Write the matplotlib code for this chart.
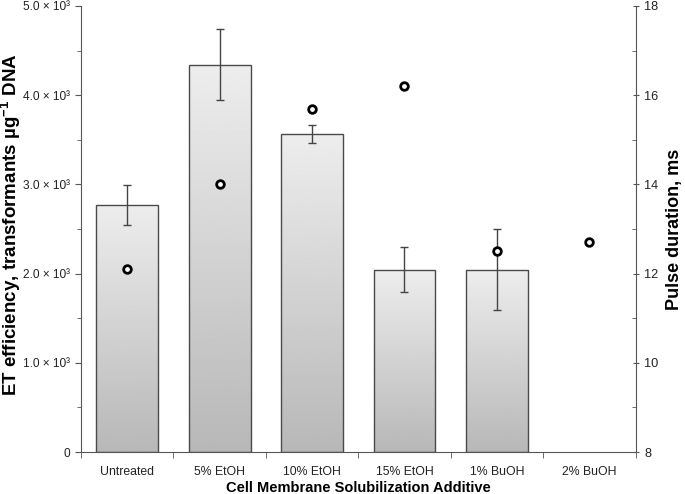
import numpy as np
import matplotlib
matplotlib.use('Agg')
import matplotlib.pyplot as plt
from matplotlib.ticker import FixedLocator, MultipleLocator

plt.rcParams['font.family'] = ['Liberation Sans', 'DejaVu Sans']
plt.rcParams['mathtext.default'] = 'regular'

# data
categories = ['Untreated', '5% EtOH', '10% EtOH', '15% EtOH', '1% BuOH', '2% BuOH']
efficiency = [2770, 4340, 3565, 2045, 2045, np.nan]
efficiency_err = [225, 400, 105, 255, 455, np.nan]
pulse_ms = [12.1, 14.0, 15.7, 16.2, 12.5, 12.7]

left_ticks = [0, 1000, 2000, 3000, 4000, 5000]
left_labels = ['0', '1.0 × 10³', '2.0 × 10³', '3.0 × 10³', '4.0 × 10³', '5.0 × 10³']
right_ticks = [8, 10, 12, 14, 16, 18]

axis_col = '#555555'

fig = plt.figure(figsize=(6.85, 4.94), dpi=100)
ax = fig.add_axes([0.118, 0.085, 0.810, 0.903])

x = np.arange(len(categories))
bars = ax.bar(x, efficiency, width=0.67, color='none', edgecolor='#4a4a4a',
              linewidth=1.0, zorder=3)

# vertical grey gradient inside every bar
grad = np.linspace(0.93, 0.72, 256).reshape(-1, 1)
for b in bars:
    h = b.get_height()
    if not np.isfinite(h):
        continue
    im = ax.imshow(grad, cmap='gray', vmin=0, vmax=1, aspect='auto',
                   extent=[b.get_x(), b.get_x() + b.get_width(), 0, h],
                   origin='upper', zorder=2)
    im.set_clip_path(b)

ax.errorbar(x, efficiency, yerr=efficiency_err, fmt='none', ecolor='#444444',
            elinewidth=1.0, capsize=3, capthick=1.0, zorder=4)

ax.set_xlim(-0.5, len(categories) - 0.5)
ax.set_ylim(0, 5000)
ax.yaxis.set_major_locator(FixedLocator(left_ticks))
ax.set_yticklabels(left_labels)
ax.yaxis.set_minor_locator(MultipleLocator(500))
ax.set_xticks(x)
ax.set_xticklabels(categories)
ax.xaxis.set_minor_locator(FixedLocator(np.arange(-0.5, len(categories), 1.0)))
ax.tick_params(axis='x', which='major', length=0, labelsize=8.8, pad=10, colors='#222222')
ax.tick_params(axis='x', which='minor', length=4, direction='out', color=axis_col)
ax.tick_params(axis='y', which='major', length=4, direction='out', labelsize=8.6,
               color=axis_col, labelcolor='#222222')
ax.tick_params(axis='y', which='minor', length=3, direction='out', color=axis_col)

for side in ['top', 'right']:
    ax.spines[side].set_visible(False)
for side in ['left', 'bottom']:
    ax.spines[side].set_color(axis_col)

ax.set_xlabel('Cell Membrane Solubilization Additive', fontsize=10.5, fontweight='bold',
              labelpad=2)
ax.set_ylabel('ET efficiency, transformants µg$^{-1}$ DNA', fontsize=13.5,
              fontweight='bold')
ax.yaxis.set_label_coords(-0.105, 0.51)

ax2 = ax.twinx()
ax2.set_ylim(8, 18)
ax2.plot(x, pulse_ms, linestyle='none', marker='o', markersize=5.5,
         markerfacecolor='white', markeredgecolor='black', markeredgewidth=2.0,
         zorder=5)
ax2.yaxis.set_major_locator(FixedLocator(right_ticks))
ax2.yaxis.set_minor_locator(MultipleLocator(1))
ax2.tick_params(axis='y', which='major', length=5, direction='inout', labelsize=9.2,
                color=axis_col, labelcolor='#222222')
ax2.tick_params(axis='y', which='minor', length=3, direction='in', color=axis_col)
for side in ['top', 'left', 'bottom']:
    ax2.spines[side].set_visible(False)
ax2.spines['right'].set_color(axis_col)
ax2.set_ylabel('Pulse duration, ms', fontsize=13, fontweight='bold')
ax2.yaxis.set_label_coords(1.055, 0.5)

fig.savefig('out.png', dpi=100)
